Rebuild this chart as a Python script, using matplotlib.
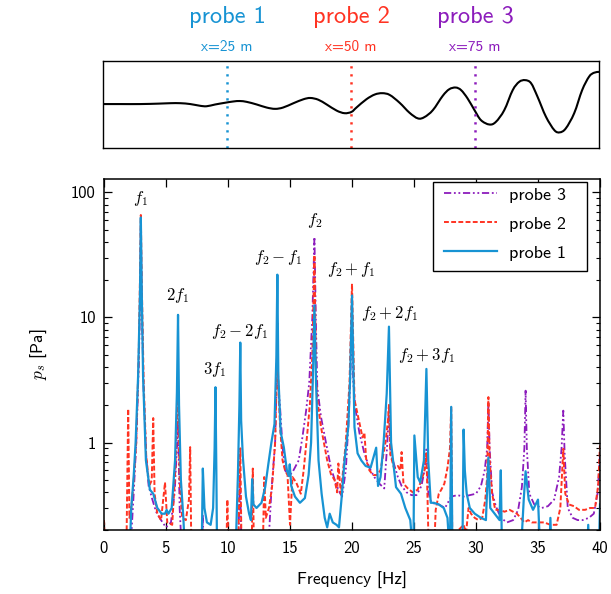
import matplotlib
matplotlib.use('Agg')
import matplotlib.pyplot as plt
from matplotlib.ticker import LogLocator, FuncFormatter, NullFormatter, FixedLocator
import matplotlib.transforms as mtransforms
from matplotlib.path import Path
from matplotlib.patches import PathPatch, Rectangle

plt.rcParams['font.family'] = ['cmss10', 'DejaVu Sans']
plt.rcParams['mathtext.fontset'] = 'cm'
plt.rcParams['axes.unicode_minus'] = False

# ---------------- data ----------------
probe_names = ['probe 1', 'probe 2', 'probe 3']
probe_pos_m = [25, 50, 75]
probe_pos_labels = ['x=25 m', 'x=50 m', 'x=75 m']
probe_colors = ['#1793d3', '#ff3322', '#8c1cbc']

# wave snapshot (position in m, normalised amplitude)
wave_x = [0, 3.5, 7.5, 11.2, 13.6, 15.6, 17.6, 19.6, 20.9, 22.6, 24.6, 26.3, 27.6, 29.0,
          31.0, 33.0, 34.7, 36.3, 38.4, 40.4, 41.8, 43.4, 45.1, 47.1, 48.7, 50.1, 51.1,
          53.1, 54.8, 56.3, 57.8, 59.8, 61.8, 63.5, 64.8, 66.5, 68.5, 69.8, 71.1, 72.2,
          73.5, 74.9, 76.2, 77.9, 79.2, 80.9, 82.6, 83.9, 85.1, 86.3, 87.6, 89.3, 91.0,
          92.1, 93.3, 95.0, 96.6, 98.0, 99.0, 100.0]
wave_y = [0.01, 0.01, 0.01, 0.02, 0.03, 0.03, 0.01, -0.03, -0.04, 0.00, 0.04, 0.07, 0.08, 0.06,
          0.00, -0.07, -0.10, -0.07, 0.03, 0.12, 0.15, 0.11, 0.00, -0.14, -0.20, -0.17, -0.07,
          0.12, 0.23, 0.26, 0.22, 0.04, -0.19, -0.32, -0.29, -0.13, 0.20, 0.35, 0.39, 0.33,
          0.14, -0.13, -0.36, -0.46, -0.40, -0.13, 0.33, 0.52, 0.56, 0.49, 0.18, -0.28, -0.59,
          -0.64, -0.55, -0.20, 0.33, 0.64, 0.73, 0.75]

# spectra (frequency in Hz, amplitude in Pa)
p1_f = [2.05, 2.2, 2.4, 2.55, 2.75, 2.9, 2.97, 3.05, 3.15, 3.38, 3.7, 3.97, 4.3, 4.65, 4.92,
        5.05, 5.2, 5.46, 5.73, 5.88, 5.97, 6.05, 6.2, 6.4, 6.55,
        7.87, 7.97, 8.1, 8.3, 8.6, 8.8, 8.92, 8.99, 9.06, 9.12,
        10.6, 10.8, 10.92, 10.99, 11.06, 11.2, 11.45, 11.7, 11.85, 11.95, 12.05, 12.3, 12.7,
        13.0, 13.25, 13.5, 13.75, 13.9, 13.98, 14.06, 14.25, 14.5, 14.75, 14.9, 14.98, 15.1,
        15.4, 15.8, 16.2, 16.5, 16.7, 16.85, 16.97, 17.1, 17.3, 17.55, 17.8, 18.0, 18.2,
        18.45, 18.75, 18.95, 19.15, 19.4, 19.7, 19.85, 20.0, 20.2, 20.45, 20.75, 21.1, 21.5,
        21.95, 22.1, 22.3, 22.55, 22.8, 22.98, 23.15, 23.55, 23.95, 24.3, 24.7, 24.95, 25.03,
        25.3, 25.5, 25.8, 26.0, 26.15, 26.35, 26.6, 27.0, 27.4, 27.7, 27.9, 28.0, 28.1,
        28.9, 29.0, 29.1, 29.25, 29.5, 29.9, 30.4, 30.8, 31.0, 31.15, 31.5, 31.9, 32.0, 32.1,
        33.6, 33.85, 34.0, 34.25, 34.6, 35.0, 35.2, 35.9, 36.0, 36.1, 38.95, 39.05, 39.15,
        39.9, 40.0]
p1_a = [0.12, 0.30, 0.55, 1.0, 3.4, 15, 63, 15, 3.4, 0.72, 0.42, 0.39, 0.30, 0.27, 0.27,
        0.29, 0.27, 0.30, 0.72, 2.5, 10.5, 2.0, 0.5, 0.25, 0.12,
        0.12, 0.62, 0.30, 0.23, 0.22, 0.30, 0.9, 2.77, 0.6, 0.12,
        0.12, 0.55, 2.0, 6.3, 1.5, 0.76, 0.37, 0.27, 0.24, 0.51, 0.32, 0.30, 0.33,
        0.44, 0.67, 1.0, 1.41, 4.8, 22, 3.45, 1.21, 0.92, 0.6, 0.54, 0.67, 0.45,
        0.37, 0.33, 0.36, 0.55, 1.0, 3.45, 12.5, 3.0, 0.72, 0.39, 0.25, 0.21, 0.27,
        0.23, 0.22, 0.21, 0.35, 0.72, 1.33, 3.3, 15, 1.33, 0.82, 0.72, 0.65, 0.63,
        0.91, 0.45, 0.53, 1.0, 2.46, 8.45, 1.0, 0.44, 0.39, 0.30, 0.24, 0.12, 1.14,
        0.53, 0.48, 0.72, 3.88, 0.72, 0.33, 0.33, 0.32, 0.30, 0.25, 0.12, 1.93, 0.12,
        0.12, 1.27, 0.60, 0.39, 0.30, 0.27, 0.25, 0.24, 0.76, 0.30, 0.27, 0.24, 0.6, 0.12,
        0.12, 0.35, 0.59, 0.35, 0.29, 0.35, 0.12, 0.12, 0.25, 0.12, 0.12, 0.22, 0.12,
        0.12, 0.32]

p2_f = [0.0, 0.1, 1.8, 1.95, 2.05, 2.2, 2.4, 2.6, 2.8, 2.9, 2.97, 3.05, 3.2, 3.4, 3.65, 3.85,
        3.97, 4.08, 4.3, 4.6, 4.92, 5.1, 5.5, 5.75, 5.97, 6.1, 6.3, 6.6, 6.85, 6.95, 7.05,
        9.85, 9.95, 10.05, 10.8, 10.99, 11.1, 11.9, 12.0, 12.1, 12.8, 12.92, 13.05, 13.3,
        13.55, 13.8, 13.92, 13.98, 14.05, 14.2, 14.4, 14.6, 14.8, 15.0, 15.2, 15.5, 15.87,
        16.1, 16.4, 16.6, 16.8, 16.97, 17.1, 17.2, 17.5, 17.8, 18.0, 18.3, 18.6, 18.8, 18.9,
        19.1, 19.5, 19.8, 20.0, 20.2, 20.5, 20.85, 21.0, 21.15, 21.4, 21.7, 22.0, 22.3, 22.7,
        22.9, 22.98, 23.1, 23.4, 23.7, 23.9, 24.0, 24.15, 24.5, 24.9, 25.3, 25.6, 25.85,
        26.0, 26.1, 26.2, 26.6, 26.75, 27.0, 27.2, 27.45, 27.7, 27.9, 28.0, 28.1, 28.6, 29.0,
        29.2, 29.4, 29.6, 29.9, 30.2, 30.5, 30.75, 30.9, 31.0, 31.1, 31.3, 31.55, 31.9, 32.3,
        32.7, 33.0, 33.3, 33.6, 33.9, 34.2, 34.5, 35.0, 35.5, 36.0, 36.5, 36.8, 37.04, 37.2,
        37.5, 37.9, 38.3, 38.8, 39.2, 39.6, 39.85, 40.0]
p2_a = [0.24, 0.12, 0.12, 1.86, 0.25, 0.30, 0.5, 1.0, 5, 20, 66, 18, 3, 0.8, 0.45, 0.5,
        1.57, 0.39, 0.27, 0.24, 0.48, 0.23, 0.22, 0.6, 3.0, 0.5, 0.25, 0.24, 0.35, 0.92, 0.12,
        0.12, 0.35, 0.12, 0.12, 0.9, 0.12, 0.12, 0.62, 0.12, 0.12, 0.53, 0.25, 0.30,
        0.44, 1.0, 3.0, 9.0, 3.0, 1.33, 0.72, 0.6, 0.55, 0.22, 0.53, 0.48, 0.39,
        0.6, 1.2, 2.0, 5.0, 31.6, 3.5, 2.2, 1.33, 0.92, 0.72, 0.56, 0.5, 0.40, 0.68,
        0.39, 1.0, 3.0, 18.6, 2.2, 1.6, 1.1, 1.2, 0.72, 0.6, 0.55, 0.55, 0.6, 1.0,
        1.5, 2.0, 0.8, 0.62, 0.65, 0.6, 0.84, 0.47, 0.43, 0.40, 0.42, 0.5, 0.6,
        0.82, 0.33, 0.12, 0.12, 0.29, 0.39, 0.42, 0.47, 0.63, 0.9, 1.93, 0.12, 0.2, 0.22,
        0.19, 0.30, 0.27, 0.25, 0.24, 0.25, 0.35, 0.53, 2.31, 0.72, 0.39, 0.29, 0.29, 0.28,
        0.29, 0.28, 0.27, 0.25, 0.23, 0.24, 0.23, 0.23, 0.23, 0.22, 0.22, 0.3, 0.89, 0.39,
        0.32, 0.31, 0.29, 0.29, 0.30, 0.30, 0.45, 0.95]

p3_f = [2.1, 2.4, 2.6, 2.8, 2.92, 2.97, 3.05, 3.2, 3.4, 3.6, 3.9, 4.2, 4.6, 5.0, 5.4, 5.7,
        5.9, 5.97, 6.1, 6.3, 7.9, 7.97, 8.05, 10.8, 10.97, 11.1, 13.2, 13.5, 13.8, 13.92,
        13.98, 14.05, 14.2, 14.4, 14.6, 14.9, 15.2, 15.7, 16.0, 16.3, 16.55, 16.8, 16.97,
        17.1, 17.2, 17.5, 17.9, 18.3, 18.7, 19.0, 19.2, 19.5, 19.7, 19.85, 20.0, 20.1, 20.3,
        20.6, 21.0, 21.4, 21.8, 22.2, 22.6, 22.85, 22.98, 23.1, 23.3, 23.7, 24.0, 24.4, 24.8,
        25.2, 25.6, 25.85, 26.0, 26.15, 26.4, 27.0, 27.5, 28.0, 28.5, 29.0, 29.5, 30.0, 30.4,
        30.7, 30.9, 31.0, 31.1, 31.3, 31.6, 32.0, 32.5, 33.0, 33.4, 33.7, 33.9, 34.0, 34.1,
        34.3, 34.7, 35.3, 35.8, 36.3, 36.7, 36.9, 37.04, 37.15, 37.4, 37.8, 38.2, 38.6, 39.1,
        39.5, 39.8, 40.0]
p3_a = [0.12, 0.4, 1.0, 4, 15, 55, 12, 2.5, 0.8, 0.45, 0.35, 0.28, 0.24, 0.21, 0.23, 0.4,
        1.0, 1.5, 0.3, 0.12, 0.12, 0.26, 0.12, 0.12, 0.55, 0.12, 0.12, 0.41, 1.0, 3.0,
        9.0, 3.0, 1.9, 0.92, 0.6, 0.54, 0.58, 0.72, 1.1, 1.8, 3.0, 10, 44,
        8, 2.77, 1.6, 1.0, 0.63, 0.47, 0.40, 0.37, 0.6, 1.33, 3.0, 9.0, 3.0, 1.8,
        1.19, 0.82, 0.63, 0.53, 0.47, 0.43, 1.0, 2.0, 0.8, 0.72, 0.53, 0.45, 0.40, 0.38,
        0.38, 0.45, 0.6, 0.88, 0.4, 0.33, 0.32, 0.30, 0.37, 0.38, 0.37, 0.38, 0.39, 0.45,
        0.6, 0.9, 2.1, 0.9, 0.40, 0.31, 0.25, 0.23, 0.24, 0.29, 0.44, 0.9, 2.6, 0.9,
        0.39, 0.32, 0.30, 0.31, 0.35, 0.53, 0.9, 1.8, 0.8, 0.30, 0.25, 0.24, 0.24, 0.25,
        0.27, 0.39, 0.8]

peak_labels = ['$f_1$', '$2f_1$', '$3f_1$', '$f_2-2f_1$', '$f_2-f_1$', '$f_2$',
               '$f_2+f_1$', '$f_2+2f_1$', '$f_2+3f_1$']
peak_label_f = [2.96, 5.92, 8.92, 10.95, 14.03, 17.03, 19.95, 22.99, 25.99]
peak_label_a = [88.7, 14.9, 3.87, 7.66, 29.9, 59.2, 24.0, 10.7, 5.0]

x_ticks = [0, 5, 10, 15, 20, 25, 30, 35, 40]


def smooth_path(xs, ys):
    """Smooth (Catmull-Rom style) drawing path through the given points."""
    verts = [(xs[0], ys[0])]
    codes = [Path.MOVETO]
    n = len(xs)
    for i in range(n - 1):
        p0 = (xs[i - 1], ys[i - 1]) if i > 0 else (xs[i], ys[i])
        p1 = (xs[i], ys[i])
        p2 = (xs[i + 1], ys[i + 1])
        p3 = (xs[i + 2], ys[i + 2]) if i + 2 < n else p2
        c1 = (p1[0] + (p2[0] - p0[0]) / 6.0, p1[1] + (p2[1] - p0[1]) / 6.0)
        c2 = (p2[0] - (p3[0] - p1[0]) / 6.0, p2[1] - (p3[1] - p1[1]) / 6.0)
        verts += [c1, c2, p2]
        codes += [Path.CURVE4] * 3
    return Path(verts, codes)


# ---------------- figure ----------------
fig = plt.figure(figsize=(6.11, 5.94), dpi=100)

# top panel
axt = fig.add_axes([103/611, 1-148/594, 496/611, 87/594])
axt.add_patch(PathPatch(smooth_path(wave_x, wave_y), facecolor='none',
                        edgecolor='black', lw=1.5))
trans = mtransforms.blended_transform_factory(axt.transData, axt.transAxes)
for pos, c, name, plab in zip(probe_pos_m, probe_colors, probe_names, probe_pos_labels):
    axt.plot([pos, pos], [-1, 1], color=c, lw=1.8, linestyle=(0, (0.9, 2.3)))
    axt.text(pos, 1.50, name, color=c, fontsize=17.5, ha='center', va='center', transform=trans)
    axt.text(pos, 1.16, plab, color=c, fontsize=11, ha='center', va='center', transform=trans)
axt.set_xlim(0, 100)
axt.set_ylim(-1, 1)
axt.set_xticks([])
axt.set_yticks([])
for s in axt.spines.values():
    s.set_linewidth(1.0)

# main panel
ax = fig.add_axes([104/611, 1-530/594, 496/611, 351/594])
l3, = ax.plot(p3_f, p3_a, color=probe_colors[2], lw=1.3,
              linestyle=(0, (4, 1.5, 1, 1.5, 1, 1.5)), label='probe 3')
l2, = ax.plot(p2_f, p2_a, color=probe_colors[1], lw=1.4,
              linestyle=(0, (2.5, 1.2)), label='probe 2')
l1, = ax.plot(p1_f, p1_a, color=probe_colors[0], lw=1.6, label='probe 1')

for lab, f, a in zip(peak_labels, peak_label_f, peak_label_a):
    ax.text(f, a, lab, fontsize=12, ha='center', va='center')

ax.set_yscale('log')
ax.set_xlim(0, 40)
ax.set_ylim(0.2, 128)
ax.xaxis.set_major_locator(FixedLocator(x_ticks))
ax.yaxis.set_major_locator(LogLocator(base=10, numticks=10))
ax.yaxis.set_minor_locator(LogLocator(base=10, subs=range(2, 10), numticks=20))
ax.yaxis.set_major_formatter(FuncFormatter(lambda v, p: '%g' % v))
ax.yaxis.set_minor_formatter(NullFormatter())
ax.tick_params(which='both', direction='in', top=True, right=True, labelsize=12)
ax.tick_params(which='major', length=6, width=0.9)
ax.tick_params(which='minor', length=3, width=0.8)
ax.tick_params(axis='x', pad=8)
ax.tick_params(axis='y', pad=6)
for s in ax.spines.values():
    s.set_linewidth(1.1)

ax.set_xlabel('Frequency [Hz]', fontsize=12.5, labelpad=11)
ax.set_ylabel('$p_s$ [Pa]', fontsize=12.5, labelpad=16)

# legend (frame drawn separately to match the reference's padding)
ax.add_patch(Rectangle((0.6633, 0.7379), 0.9738 - 0.6633, 0.9915 - 0.7379,
                       transform=ax.transAxes, facecolor='white', edgecolor='black',
                       lw=1.0, zorder=4))
leg = ax.legend(loc='upper left', bbox_to_anchor=(0.6855, 0.9772), borderaxespad=0,
                borderpad=0, fontsize=13, handlelength=2.95, handletextpad=0.64,
                labelspacing=0.74, frameon=False)
leg.set_zorder(5)

fig.savefig('out.png', dpi=100)
